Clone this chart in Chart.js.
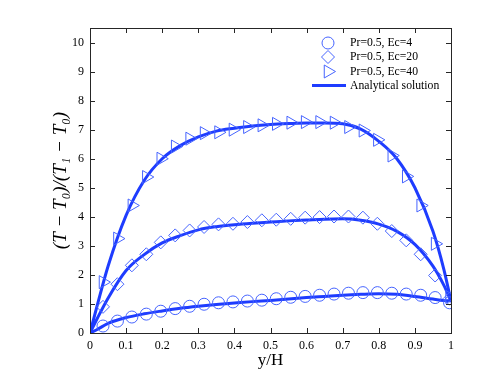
<!DOCTYPE html>
<html>
<head>
<meta charset="utf-8">
<script src="https://cdn.jsdelivr.net/npm/chart.js@4.4.0/dist/chart.umd.min.js"></script>
<style>
  html, body { margin: 0; padding: 0; background: #fff; }
  #wrap { width: 498px; height: 375px; }
</style>
</head>
<body>
<div id="wrap"><canvas id="chart"></canvas></div>
<script>
// marker positions (y/H) and simulated values
const markerX = [0.036, 0.076, 0.116, 0.156, 0.196, 0.236, 0.276, 0.316, 0.356, 0.396, 0.436, 0.476, 0.516,
  0.556, 0.596, 0.636, 0.676, 0.716, 0.756, 0.796, 0.836, 0.876, 0.916, 0.956, 0.996];
const ec4 = [0.24, 0.41, 0.55, 0.65, 0.75, 0.84, 0.92, 0.99, 1.04, 1.07, 1.10, 1.13, 1.18,
  1.23, 1.26, 1.30, 1.34, 1.37, 1.39, 1.39, 1.37, 1.34, 1.30, 1.22, 1.04];
const ec20 = [0.90, 1.68, 2.33, 2.71, 3.12, 3.36, 3.53, 3.65, 3.74, 3.76, 3.82, 3.88, 3.90,
  3.93, 3.97, 3.99, 4.01, 4.01, 3.97, 3.76, 3.51, 3.19, 2.71, 1.98, 1.18];
const ec40 = [1.75, 3.25, 4.39, 5.37, 6.00, 6.42, 6.69, 6.88, 6.91, 7.00, 7.09, 7.15, 7.20,
  7.24, 7.26, 7.26, 7.24, 7.09, 6.97, 6.65, 6.11, 5.39, 4.39, 3.07, 1.24];

// analytical curves
const curveX = [0, 0.02, 0.05, 0.1, 0.15, 0.2, 0.25, 0.3, 0.35, 0.4, 0.45, 0.5, 0.55,
  0.6, 0.65, 0.7, 0.75, 0.8, 0.85, 0.9, 0.95, 0.98, 1.0];
const curve4 = [0, 0.12, 0.33, 0.53, 0.66, 0.76, 0.85, 0.92, 0.98, 1.03, 1.08, 1.12, 1.17,
  1.22, 1.26, 1.30, 1.33, 1.35, 1.33, 1.26, 1.17, 1.12, 1.1];
const curve20 = [0, 0.5, 1.2, 2.15, 2.7, 3.1, 3.35, 3.55, 3.66, 3.73, 3.78, 3.82, 3.86,
  3.89, 3.92, 3.93, 3.88, 3.75, 3.5, 3.05, 2.3, 1.65, 1.1];
const curve40 = [0, 0.95, 2.3, 4.05, 5.25, 6.0, 6.45, 6.75, 6.95, 7.05, 7.13, 7.18, 7.21,
  7.23, 7.23, 7.2, 7.02, 6.6, 6.0, 5.0, 3.5, 2.2, 1.1];

const xTicks = [0, 0.1, 0.2, 0.3, 0.4, 0.5, 0.6, 0.7, 0.8, 0.9, 1];
const yTicks = [0, 1, 2, 3, 4, 5, 6, 7, 8, 9, 10];

const lineColor = 'rgb(30,60,255)';
const markColor = 'rgb(70,100,255)';
const serif = '"Liberation Serif", "DejaVu Serif", serif';

const pts = (xs, ys) => xs.map((x, i) => ({ x: x, y: ys[i] }));

function markerSet(label, ys, style, radius, rotation) {
  return {
    label: label,
    data: pts(markerX, ys),
    showLine: false,
    pointStyle: style,
    pointRadius: radius,
    pointRotation: rotation,
    pointBorderColor: markColor,
    pointBackgroundColor: 'rgba(0,0,0,0)',
    pointBorderWidth: 1,
    borderColor: markColor,
  };
}

function curveSet(ys) {
  return {
    label: 'Analytical solution',
    data: pts(curveX, ys),
    borderColor: lineColor,
    borderWidth: 3,
    pointRadius: 0,
    cubicInterpolationMode: 'monotone',
  };
}

const datasets = [
  markerSet('Pr=0.5, Ec=4', ec4, 'circle', 6, 0),
  markerSet('Pr=0.5, Ec=20', ec20, 'rectRot', 6.5, 0),
  markerSet('Pr=0.5, Ec=40', ec40, 'triangle', 7.5, 90),
  curveSet(curve4),
  curveSet(curve20),
  curveSet(curve40),
];

// box with inward ticks on all four sides
const framePlugin = {
  id: 'frame',
  afterDraw(chart) {
    const { ctx, chartArea: a, scales } = chart;
    const len = 5;
    ctx.save();
    ctx.strokeStyle = '#262626';
    ctx.lineWidth = 1;
    ctx.beginPath();
    xTicks.forEach(v => {
      const px = Math.round(scales.x.getPixelForValue(v)) + 0.5;
      ctx.moveTo(px, a.bottom); ctx.lineTo(px, a.bottom - len);
      ctx.moveTo(px, a.top); ctx.lineTo(px, a.top + len);
    });
    yTicks.forEach(v => {
      const py = Math.round(scales.y.getPixelForValue(v)) + 0.5;
      ctx.moveTo(a.left, py); ctx.lineTo(a.left + len, py);
      ctx.moveTo(a.right, py); ctx.lineTo(a.right - len, py);
    });
    ctx.stroke();
    ctx.strokeRect(Math.round(a.left) + 0.5, Math.round(a.top) + 0.5,
      Math.round(a.right - a.left), Math.round(a.bottom - a.top));
    ctx.restore();
  }
};

// legend drawn inside the axes, top right
const legendPlugin = {
  id: 'innerLegend',
  afterDraw(chart) {
    const { ctx, chartArea: a } = chart;
    const mx = a.right - 123, tx = a.right - 101;
    const rows = [a.top + 15, a.top + 29, a.top + 43.5, a.top + 57.5];
    ctx.save();
    ctx.font = '11.7px ' + serif;
    ctx.textBaseline = 'middle';
    ctx.fillStyle = '#000';
    for (let i = 0; i < 3; i++) {
      const ds = chart.data.datasets[i];
      ctx.strokeStyle = markColor;
      ctx.fillStyle = 'rgba(0,0,0,0)';
      ctx.lineWidth = 1;
      Chart.helpers.drawPoint(ctx, {
        pointStyle: ds.pointStyle, radius: ds.pointRadius,
        rotation: ds.pointRotation, borderWidth: 1
      }, mx, rows[i]);
      ctx.fillStyle = '#000';
      ctx.fillText(ds.label, tx, rows[i]);
    }
    ctx.strokeStyle = lineColor;
    ctx.lineWidth = 3;
    ctx.beginPath();
    ctx.moveTo(mx - 16, rows[3]); ctx.lineTo(mx + 18, rows[3]);
    ctx.stroke();
    ctx.fillText('Analytical solution', tx, rows[3]);
    ctx.restore();
  }
};

new Chart(document.getElementById('chart'), {
  type: 'line',
  data: { datasets: datasets },
  plugins: [framePlugin, legendPlugin],
  options: {
    responsive: true,
    maintainAspectRatio: false,
    animation: false,
    layout: { padding: { top: 28, right: 47, left: 0, bottom: 0 } },
    plugins: {
      legend: { display: false },
      tooltip: { enabled: false },
    },
    scales: {
      x: {
        type: 'linear',
        min: 0,
        max: 1,
        afterFit: s => { s.height = 42; },
        afterBuildTicks: s => { s.ticks = xTicks.map(v => ({ value: v })); },
        grid: { display: false, drawTicks: false },
        border: { display: false },
        ticks: {
          color: '#000', padding: 6, font: { family: serif, size: 12 },
          callback: v => String(v)
        },
        title: {
          display: true, text: 'y/H', color: '#000',
          font: { family: serif, size: 17 }, padding: { top: 0, bottom: 4 }
        },
      },
      y: {
        type: 'linear',
        min: 0,
        max: 10.5,
        afterFit: s => { s.width = 90; },
        afterBuildTicks: s => { s.ticks = yTicks.map(v => ({ value: v })); },
        grid: { display: false, drawTicks: false },
        border: { display: false },
        ticks: {
          color: '#000', padding: 6, font: { family: serif, size: 12 },
          callback: v => String(v)
        },
        title: {
          display: true, text: '(T \u2212 T\u2080)/(T\u2081 \u2212 T\u2080)', color: '#000',
          font: { family: serif, size: 19, style: 'italic' }, padding: { top: 50, bottom: 0 }
        },
      },
    },
  },
});
</script>
</body>
</html>
